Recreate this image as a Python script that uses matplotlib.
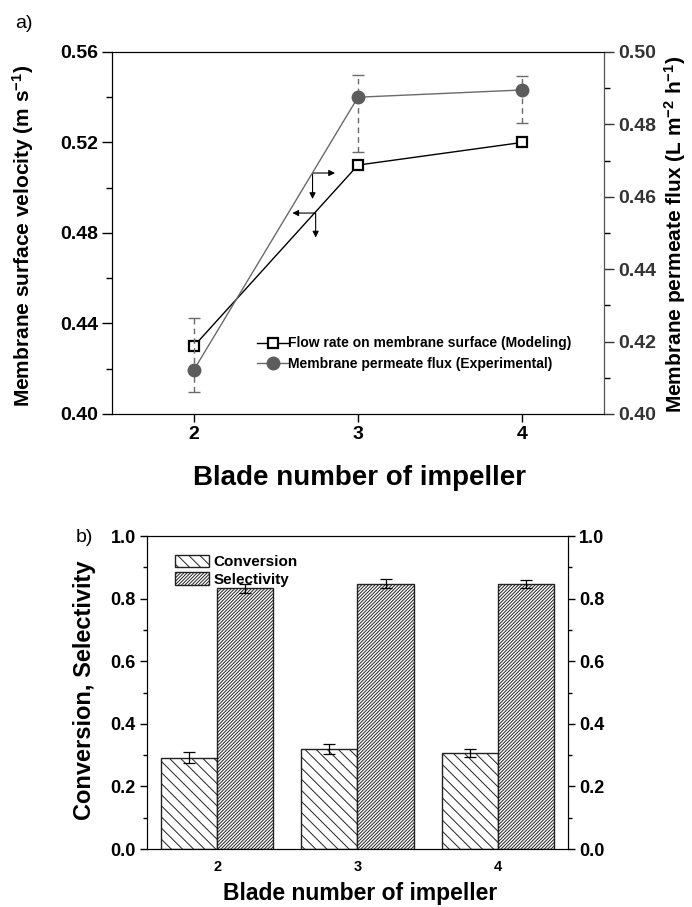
import matplotlib
matplotlib.use("Agg")
import matplotlib.pyplot as plt
import numpy as np

plt.rcParams['font.family'] = ['Liberation Sans', 'DejaVu Sans']
plt.rcParams['hatch.linewidth'] = 0.7
plt.rcParams['mathtext.default'] = 'regular'

# --- data, panel a ---
blades = [2, 3, 4]
velocity_model = [0.43, 0.51, 0.52]          # left axis, m s-1
flux_exp = [0.4122, 0.4875, 0.4895]          # right axis, L m-2 h-1
flux_err_low = [0.0060, 0.0151, 0.0091]
flux_err_high = [0.0142, 0.0061, 0.0039]

# --- data, panel b ---
conversion = [0.292, 0.320, 0.308]
conversion_err = [0.017, 0.015, 0.013]
selectivity = [0.833, 0.848, 0.846]
selectivity_err = [0.014, 0.015, 0.013]

fig = plt.figure(figsize=(6.92, 9.07), dpi=100)

# ===== panel a =====
ax = fig.add_axes([0.1618, 0.5436, 0.711, 0.3991])
ax2 = ax.twinx()

ax.plot(blades, velocity_model, color='black', lw=1.0, marker='s', ms=7,
        mfc='white', mec='black', mew=1.6, zorder=5)
ax2.plot(blades, flux_exp, color='#6a6a6a', lw=1.0, marker='o', ms=9,
         mfc='#5c5c5c', mec='#5c5c5c', zorder=4)
eb = ax2.errorbar(blades, flux_exp, yerr=[flux_err_low, flux_err_high], fmt='none',
                  ecolor='#6a6a6a', elinewidth=1.0, capsize=4, capthick=1.0)
eb[2][0].set_linestyle((0, (4, 3)))

ax.set_xlim(1.5, 4.5)
ax.set_ylim(0.40, 0.56)
ax2.set_ylim(0.40, 0.50)
ax.set_xticks(blades)
ax.set_yticks(np.arange(0.40, 0.561, 0.04))
ax.set_yticks(np.arange(0.42, 0.56, 0.04), minor=True)
ax2.set_yticks(np.arange(0.40, 0.501, 0.02))
ax2.set_yticks(np.arange(0.41, 0.50, 0.02), minor=True)
ax.set_yticklabels(['%.2f' % v for v in np.arange(0.40, 0.561, 0.04)])
ax2.set_yticklabels(['%.2f' % v for v in np.arange(0.40, 0.501, 0.02)])

for a in (ax, ax2):
    a.tick_params(which='major', direction='out', length=7, width=1.0,
                  labelsize=14, pad=3)
    a.tick_params(which='minor', direction='out', length=4, width=1.0)
    for lab in a.get_yticklabels() + a.get_xticklabels():
        lab.set_fontweight('bold')
ax.tick_params(axis='x', which='major', length=6)
ax2.spines['right'].set_color('#555555')
ax2.tick_params(axis='y', colors='#333333')

# direction arrows
arrow_kw = dict(arrowstyle='-|>', color='black', lw=0.8, mutation_scale=9,
                shrinkA=0, shrinkB=0)
ax.annotate('', xy=(2.86, 0.5065), xytext=(2.723, 0.5065), arrowprops=arrow_kw)
ax.annotate('', xy=(2.723, 0.4950), xytext=(2.723, 0.5065), arrowprops=arrow_kw)
ax.annotate('', xy=(2.60, 0.4888), xytext=(2.742, 0.4888), arrowprops=arrow_kw)
ax.annotate('', xy=(2.742, 0.4780), xytext=(2.742, 0.4888), arrowprops=arrow_kw)

h1, = ax.plot([], [], color='black', lw=1.0, marker='s', ms=7, mfc='white',
              mec='black', mew=1.6)
h2, = ax.plot([], [], color='#6a6a6a', lw=1.0, marker='o', ms=9,
              mfc='#5c5c5c', mec='#5c5c5c')
leg = ax.legend([h1, h2], ['Flow rate on membrane surface (Modeling)',
                           'Membrane permeate flux (Experimental)'],
                loc='lower left', bbox_to_anchor=(0.27, 0.085), frameon=False,
                handlelength=2.2, handletextpad=0.0, labelspacing=0.45,
                prop={'weight': 'bold', 'size': 10})

fig.text(0.52, 1 - 485 / 907, 'Blade number of impeller', ha='center',
         va='baseline', fontsize=20, fontweight='bold')
fig.text(23 / 692, 1 - 236 / 907, 'Membrane surface velocity (m s$^{-1}$)',
         rotation=90, ha='center', va='center', fontsize=15, fontweight='bold')
fig.text(675 / 692, 1 - 234 / 907, 'Membrane permeate flux (L m$^{-2}$ h$^{-1}$)',
         rotation=90, ha='center', va='center', fontsize=15, fontweight='bold')
fig.text(24 / 692, 1 - 24 / 907, 'a)', ha='center', va='center', fontsize=14)

# ===== panel b =====
bx = fig.add_axes([0.2124, 0.0639, 0.6084, 0.345])
bx2 = bx.twinx()
x = np.array(blades)
w = 0.4
bx.bar(x - w / 2, conversion, w, color='white', edgecolor='#222222', lw=1.0,
       hatch='\\\\\\', label='Conversion')
bx.bar(x + w / 2, selectivity, w, color='white', edgecolor='#222222', lw=1.0,
       hatch='//////////', label='Selectivity')
bx.errorbar(x - w / 2, conversion, yerr=conversion_err, fmt='none', ecolor='black',
            elinewidth=0.9, capsize=4, capthick=0.9)
bx.errorbar(x + w / 2, selectivity, yerr=selectivity_err, fmt='none', ecolor='black',
            elinewidth=0.9, capsize=4, capthick=0.9)

bx.set_xlim(1.5, 4.5)
for a in (bx, bx2):
    a.set_ylim(0, 1.0)
    a.set_yticks(np.arange(0, 1.01, 0.2))
    a.set_yticks(np.arange(0.1, 1.0, 0.2), minor=True)
    a.set_yticklabels(['%.1f' % v for v in np.arange(0, 1.01, 0.2)])
    a.tick_params(which='major', direction='out', length=5, width=1.0,
                  labelsize=13, pad=3)
    a.tick_params(which='minor', direction='out', length=3, width=1.0)
    for lab in a.get_yticklabels():
        lab.set_fontweight('bold')
bx.set_xticks(blades)
bx.tick_params(axis='x', length=0, labelsize=10.5, pad=8)
for lab in bx.get_xticklabels():
    lab.set_fontweight('bold')

bx.legend(loc='upper left', bbox_to_anchor=(0.035, 0.985), frameon=False,
          handlelength=2.2, handleheight=0.9, handletextpad=0.3,
          labelspacing=0.2, prop={'weight': 'bold', 'size': 11})

fig.text(0.52, 1 - 900 / 907, 'Blade number of impeller', ha='center',
         va='baseline', fontsize=16.5, fontweight='bold')
fig.text(84 / 692, 1 - 690 / 907, 'Conversion, Selectivity', rotation=90,
         ha='center', va='center', fontsize=17, fontweight='bold')
fig.text(84 / 692, 1 - 538 / 907, 'b)', ha='center', va='center', fontsize=14)

fig.savefig('out.png', dpi=100)
